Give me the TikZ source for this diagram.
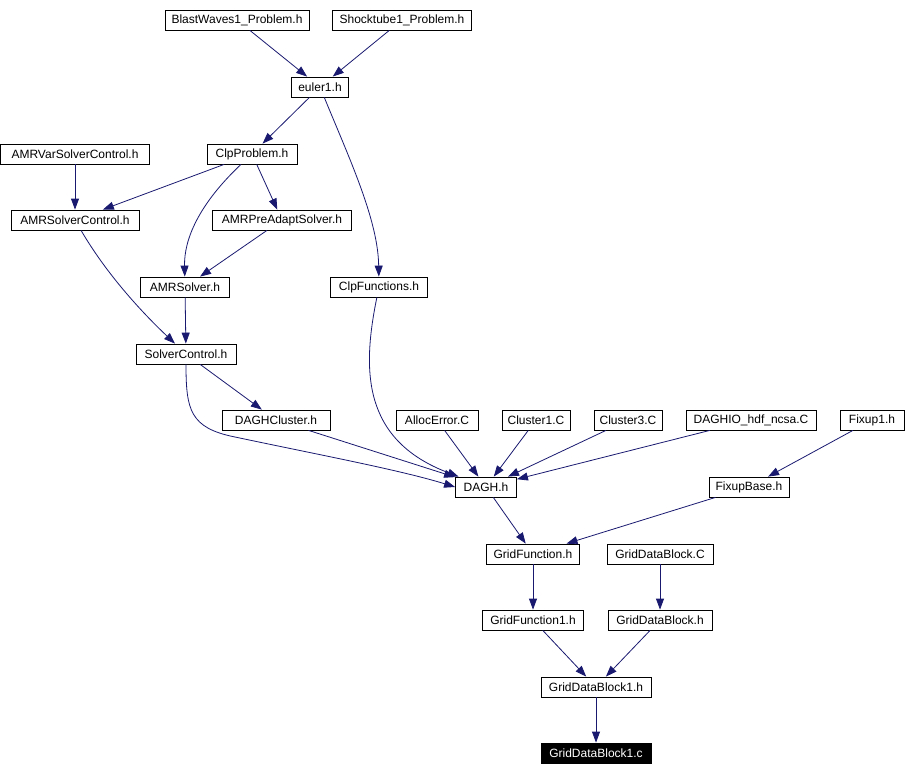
\documentclass[tikz,border=0pt]{standalone}
\usepackage{fontspec}
\setmainfont{Liberation Sans}
\usetikzlibrary{arrows.meta}
\definecolor{edgeblue}{HTML}{191970}

\begin{document}
\begin{tikzpicture}[x=1pt, y=-1pt,
  file/.style={draw, line width=0.8pt, minimum height=20, inner sep=0pt,
    font=\fontsize{12}{14}\selectfont},
  mainfile/.style={file, fill=black, text=white},
  dep/.style={edgeblue, line width=0.8pt, -{Triangle[length=11pt,width=8pt]}}]
\useasboundingbox (0,0) rectangle (908,776);

% Top headers
\node[file, minimum width=144] (blast) at (237,20) {BlastWaves1\_Problem.h};
\node[file, minimum width=139] (shock) at (402,20) {Shocktube1\_Problem.h};
\node[file, minimum width=57] (euler) at (320,87) {euler1.h};

% Solver layer
\node[file, minimum width=149] (amrvar) at (75,154) {AMRVarSolverControl.h};
\node[file, minimum width=90] (clpprob) at (252,154) {ClpProblem.h};
\node[file, minimum width=128] (amrctl) at (75,220) {AMRSolverControl.h};
\node[file, minimum width=139] (amrpre) at (282,220) {AMRPreAdaptSolver.h};
\node[file, minimum width=89] (amrsolver) at (185,287) {AMRSolver.h};
\node[file, minimum width=97] (clpfun) at (379,287) {ClpFunctions.h};
\node[file, minimum width=100] (solverctl) at (186,354) {SolverControl.h};

% Row above DAGH
\node[file, minimum width=108] (cluster) at (276,420) {DAGHCluster.h};
\node[file, minimum width=82] (alloc) at (437,420) {AllocError.C};
\node[file, minimum width=68] (clus1) at (536,420) {Cluster1.C};
\node[file, minimum width=68] (clus3) at (628,420) {Cluster3.C};
\node[file, minimum width=130] (daghio) at (751,420) {DAGHIO\_hdf\_ncsa.C};
\node[file, minimum width=64] (fixup) at (872,420) {Fixup1.h};

% Lower part
\node[file, minimum width=61] (dagh) at (486,487) {DAGH.h};
\node[file, minimum width=80] (fixbase) at (749,487) {FixupBase.h};
\node[file, minimum width=93] (gridfun) at (533,554) {GridFunction.h};
\node[file, minimum width=106] (gdbC) at (660,554) {GridDataBlock.C};
\node[file, minimum width=101] (gridfun1) at (533,620) {GridFunction1.h};
\node[file, minimum width=104] (gdbh) at (660,620) {GridDataBlock.h};
\node[file, minimum width=110] (gdb1h) at (596,687) {GridDataBlock1.h};
\node[mainfile, minimum width=110] (gdb1c) at (596,753) {GridDataBlock1.c};

% Straight edges
\draw[dep] (blast) -- (euler);
\draw[dep] (shock) -- (euler);
\draw[dep] (euler) -- (clpprob);
\draw[dep] (amrvar) -- (amrctl);
\draw[dep] (clpprob) -- (amrctl);
\draw[dep] (clpprob) -- (amrpre);
\draw[dep] (amrpre) -- (amrsolver);
\draw[dep] (amrsolver) -- (solverctl);
\draw[dep] (solverctl) -- (cluster);
\draw[dep] (cluster) -- (dagh);
\draw[dep] (alloc) -- (dagh);
\draw[dep] (clus1) -- (dagh);
\draw[dep] (clus3) -- (dagh);
\draw[dep] (daghio) -- (dagh);
\draw[dep] (fixup) -- (fixbase);
\draw[dep] (dagh) -- (gridfun);
\draw[dep] (fixbase) -- (gridfun);
\draw[dep] (gridfun) -- (gridfun1);
\draw[dep] (gdbC) -- (gdbh);
\draw[dep] (gridfun1) -- (gdb1h);
\draw[dep] (gdbh) -- (gdb1h);
\draw[dep] (gdb1h) -- (gdb1c);

% Curved edges
\draw[dep] (euler) .. controls (350,160) and (378,220) .. (clpfun);
\draw[dep] (clpprob) .. controls (198,205) and (184,240) .. (amrsolver);
\draw[dep] (amrctl) .. controls (110,280) and (150,320) .. (solverctl);
\draw[dep] (solverctl.south) .. controls (186,410) and (190,428) .. (235,437)
  .. controls (320,455) and (400,470) .. (dagh.west);
\draw[dep] (clpfun) .. controls (362,370) and (362,440) .. (dagh);

\end{tikzpicture}
\end{document}
